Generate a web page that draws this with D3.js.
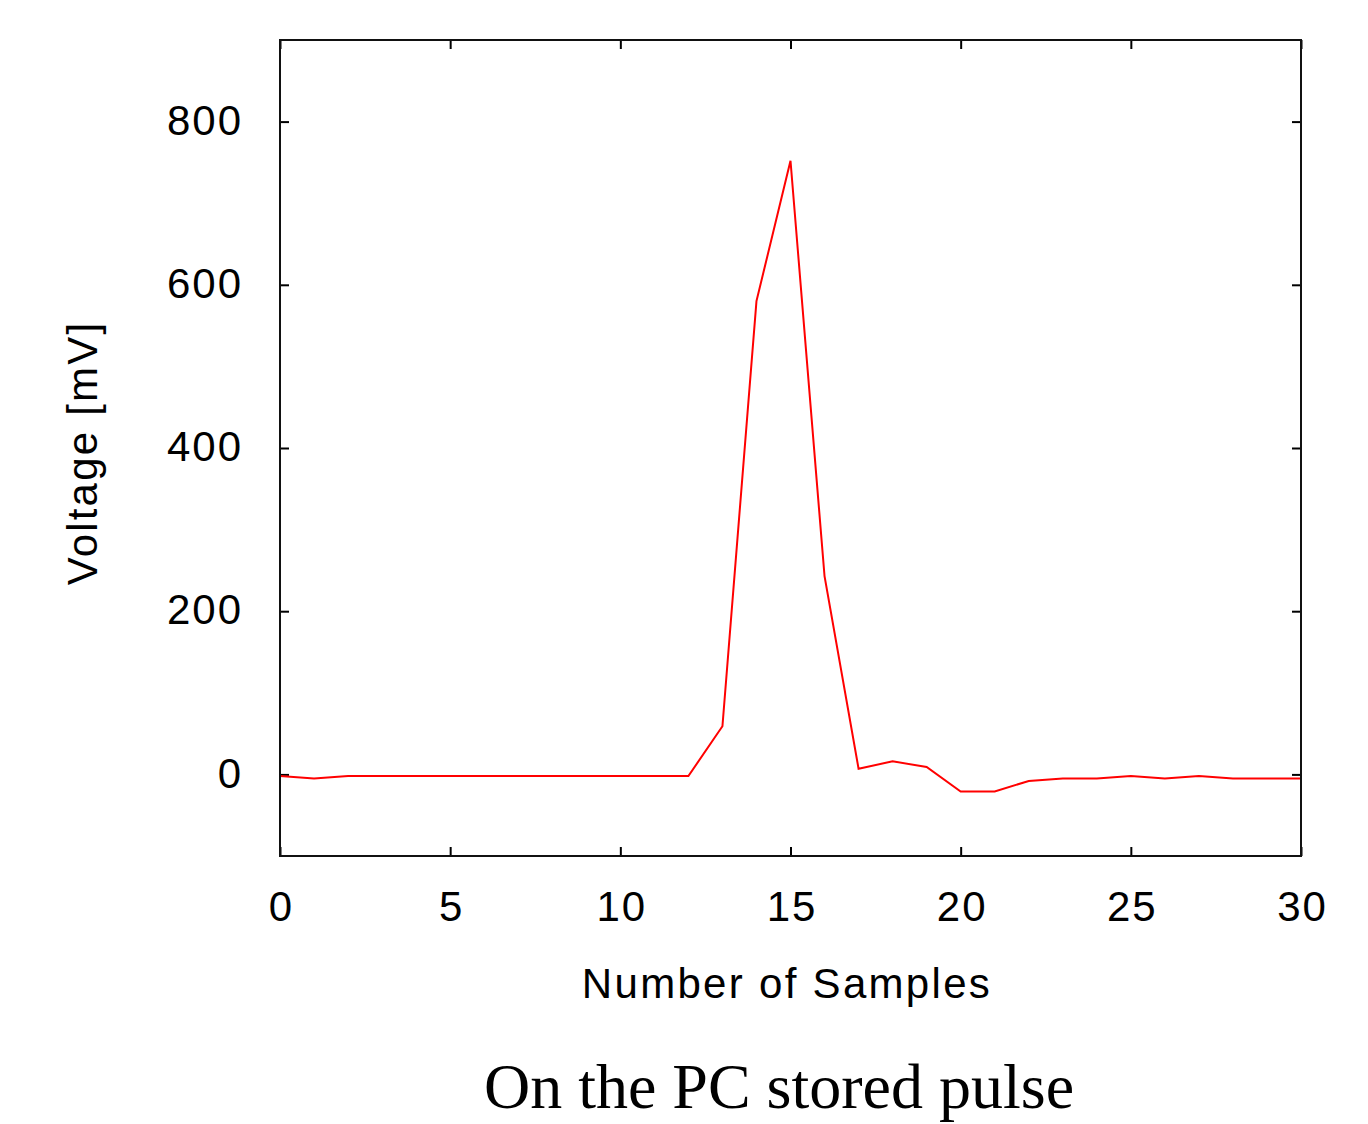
<!DOCTYPE html>
<html>
<head>
<meta charset="utf-8">
<script src="https://cdn.jsdelivr.net/npm/d3@7"></script>
<style>
  html, body { margin: 0; padding: 0; background: #fff; }
  svg { display: block; }
  text { font-family: "Liberation Sans", Arial, sans-serif; fill: #000; }
</style>
</head>
<body>
<script>
// ---- data ----
const samples = [0,1,2,3,4,5,6,7,8,9,10,11,12,13,14,15,16,17,18,19,20,21,22,23,24,25,26,27,28,29,30];
const voltage = [-2,-5,-2,-2,-2,-2,-2,-2,-2,-2,-2,-2,-2,59,580,752,243,7,16,9,-21,-21,-8,-5,-5,-2,-5,-2,-5,-5,-5];
const xTicks = [0,5,10,15,20,25,30];
const yTicks = [0,200,400,600,800];
const xLabel = "Number of Samples";
const yLabel = "Voltage [mV]";
const caption = "On the PC stored pulse";

// ---- layout ----
const W = 1368, H = 1124;
const pL = 280, pR = 1301, pT = 40, pB = 856;

const svg = d3.select("body").append("svg")
  .attr("width", W).attr("height", H);
svg.append("rect").attr("width", W).attr("height", H).attr("fill", "#fff");

const x = d3.scaleLinear().domain([0, 30]).range([pL, pR]);
const y = d3.scaleLinear().domain([-100, 900]).range([pB, pT]);

const fontPx = 42, ls = 2;
const tickLen = 9;

// bottom axis (ticks inside + labels)
const gx = svg.append("g").attr("transform", `translate(0,${pB})`)
  .call(d3.axisBottom(x).tickValues(xTicks).tickSize(-tickLen).tickFormat(d3.format("d")));
gx.select(".domain").remove();
gx.selectAll("line").attr("stroke", "#000").attr("stroke-width", 2);
gx.selectAll("text").attr("y", 65).attr("dy", 0).attr("x", 1)
  .style("font-size", fontPx + "px").style("letter-spacing", ls + "px")
  .attr("fill", "#000").attr("font-family", null);

// top mirror ticks
const gxt = svg.append("g").attr("transform", `translate(0,${pT})`)
  .call(d3.axisTop(x).tickValues(xTicks).tickSize(-tickLen).tickFormat(""));
gxt.select(".domain").remove();
gxt.selectAll("line").attr("stroke", "#000").attr("stroke-width", 2);

// left axis
const gy = svg.append("g").attr("transform", `translate(${pL},0)`)
  .call(d3.axisLeft(y).tickValues(yTicks).tickSize(-tickLen).tickFormat(d3.format("d")));
gy.select(".domain").remove();
gy.selectAll("line").attr("stroke", "#000").attr("stroke-width", 2);
gy.selectAll("text").attr("x", -37).attr("dy", "0.3em")
  .style("font-size", fontPx + "px").style("letter-spacing", ls + "px")
  .attr("fill", "#000").attr("font-family", null);

// right mirror ticks
const gyr = svg.append("g").attr("transform", `translate(${pR},0)`)
  .call(d3.axisRight(y).tickValues(yTicks).tickSize(-tickLen).tickFormat(""));
gyr.select(".domain").remove();
gyr.selectAll("line").attr("stroke", "#000").attr("stroke-width", 2);

// data line
const line = d3.line().x((d, i) => x(samples[i])).y(d => y(d));
svg.append("path").datum(voltage)
  .attr("d", line)
  .attr("fill", "none")
  .attr("stroke", "#ff0000")
  .attr("stroke-width", 2)
  .attr("stroke-linejoin", "miter");

// frame
svg.append("rect")
  .attr("x", pL).attr("y", pT)
  .attr("width", pR - pL).attr("height", pB - pT)
  .attr("fill", "none").attr("stroke", "#111").attr("stroke-width", 2);

// axis labels
svg.append("text")
  .attr("x", 787).attr("y", 998)
  .attr("text-anchor", "middle")
  .style("font-size", fontPx + "px").style("letter-spacing", "2.3px")
  .text(xLabel);

svg.append("text")
  .attr("transform", `translate(97,${(pT + pB) / 2 + 5}) rotate(-90)`)
  .attr("text-anchor", "middle")
  .style("font-size", fontPx + "px").style("letter-spacing", "2.2px")
  .text(yLabel);

// caption
svg.append("text")
  .attr("x", 779).attr("y", 1108)
  .attr("text-anchor", "middle")
  .style("font-family", "'Liberation Serif', 'Times New Roman', serif")
  .style("font-size", "64px")
  .text(caption);
</script>
</body>
</html>
